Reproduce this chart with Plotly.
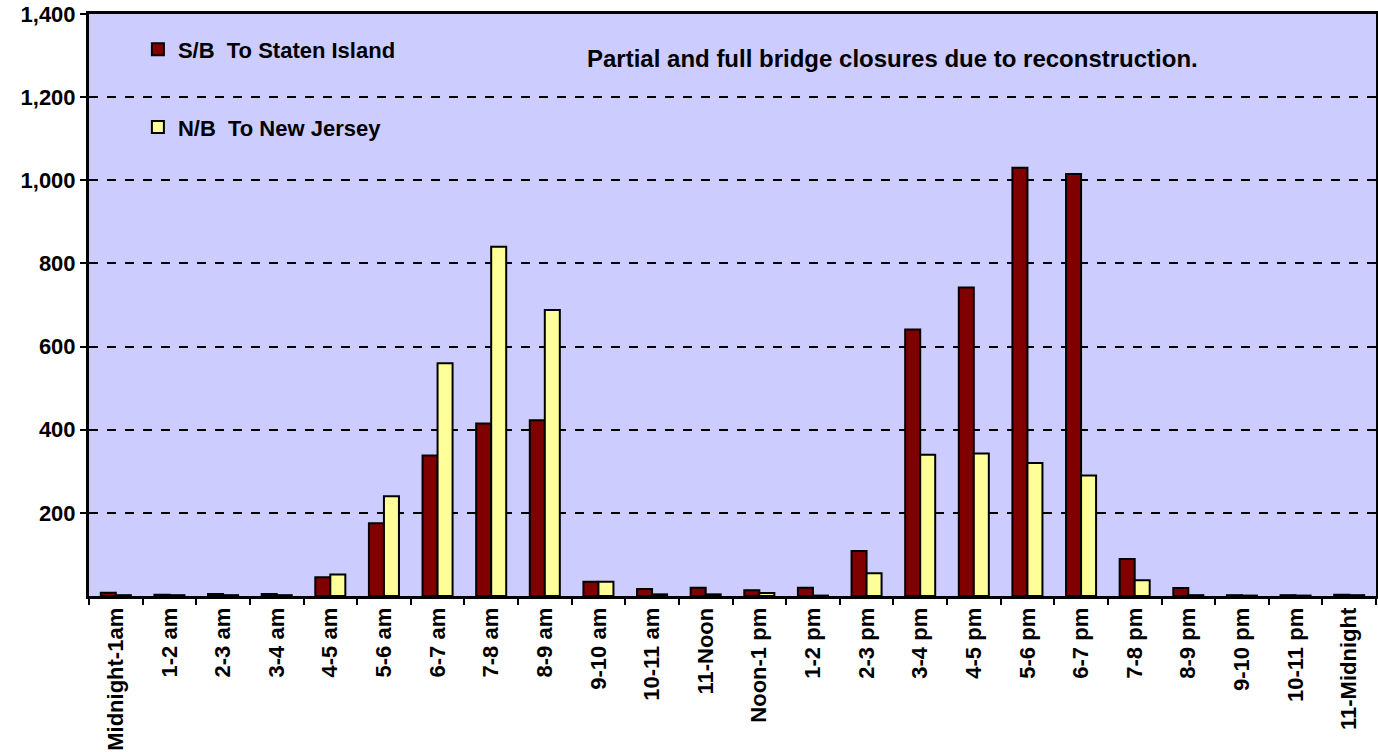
import plotly.graph_objects as go

categories = ["Midnight-1am", "1-2 am", "2-3 am", "3-4 am", "4-5 am", "5-6 am", "6-7 am",
              "7-8 am", "8-9 am", "9-10 am", "10-11 am", "11-Noon", "Noon-1 pm", "1-2 pm",
              "2-3 pm", "3-4 pm", "4-5 pm", "5-6 pm", "6-7 pm", "7-8 pm", "8-9 pm",
              "9-10 pm", "10-11 pm", "11-Midnight"]
sb_values = [8, 3, 5, 5, 45, 175, 338, 415, 423, 34, 17, 20, 14, 20,
             108, 641, 742, 1030, 1015, 89, 19, 2, 2, 3]
nb_values = [2, 2, 2, 2, 52, 240, 560, 840, 688, 34, 4, 4, 7, 1,
             55, 340, 343, 320, 290, 38, 2, 1, 1, 2]
y_ticks = [200, 400, 600, 800, 1000, 1200, 1400]
y_ticktext = ["200", "400", "600", "800", "1,000", "1,200", "1,400"]

FONT = "Liberation Sans, Arial, sans-serif"

fig = go.Figure()
fig.add_trace(go.Bar(x=categories, y=sb_values, name="S/B  To Staten Island",
                     marker=dict(color="#800000", line=dict(color="black", width=2)),
                     legendgroup="a"))
fig.add_trace(go.Bar(x=categories, y=nb_values, name="N/B  To New Jersey",
                     marker=dict(color="#FFFF99", line=dict(color="black", width=2)),
                     legendgroup="b"))

fig.add_annotation(text="Partial and full bridge closures due to reconstruction.",
                   xref="paper", yref="paper", x=0.624, y=0.923,
                   xanchor="center", yanchor="middle", showarrow=False,
                   font=dict(family=FONT, size=24, color="black", weight="bold"))

fig.update_layout(
    width=1378, height=752,
    margin=dict(l=89, r=2, t=14, b=156),
    paper_bgcolor="white",
    plot_bgcolor="#CCCCFF",
    barmode="group",
    bargap=0.44,
    bargroupgap=0,
    font=dict(family=FONT, size=16, color="black", weight="bold"),
    legend=dict(x=0.038, y=0.975, xanchor="left", yanchor="top",
                bgcolor="rgba(0,0,0,0)", font=dict(family=FONT, size=22, weight="bold"),
                tracegroupgap=46, itemwidth=30),
    showlegend=True,
)
fig.update_xaxes(showline=True, linewidth=3, linecolor="black", mirror=True,
                 ticks="outside", tickson="boundaries", ticklen=6, tickwidth=1.5,
                 tickcolor="black", tickangle=-90, showgrid=False, automargin=False,
                 tickfont=dict(family=FONT, size=22, weight="bold"))
fig.update_yaxes(range=[0, 1400], tickvals=y_ticks, ticktext=y_ticktext,
                 showline=True, linewidth=3, linecolor="black", mirror=True,
                 ticks="outside", ticklen=6, tickwidth=1.5, tickcolor="black",
                 showgrid=True, gridcolor="black", gridwidth=2, griddash="dash",
                 zeroline=False, automargin=False,
                 tickfont=dict(family=FONT, size=22, weight="bold"))

fig.write_html("out.html", config={"displayModeBar": False},
               post_script="document.body.style.margin='0';document.body.style.overflow='hidden';")
